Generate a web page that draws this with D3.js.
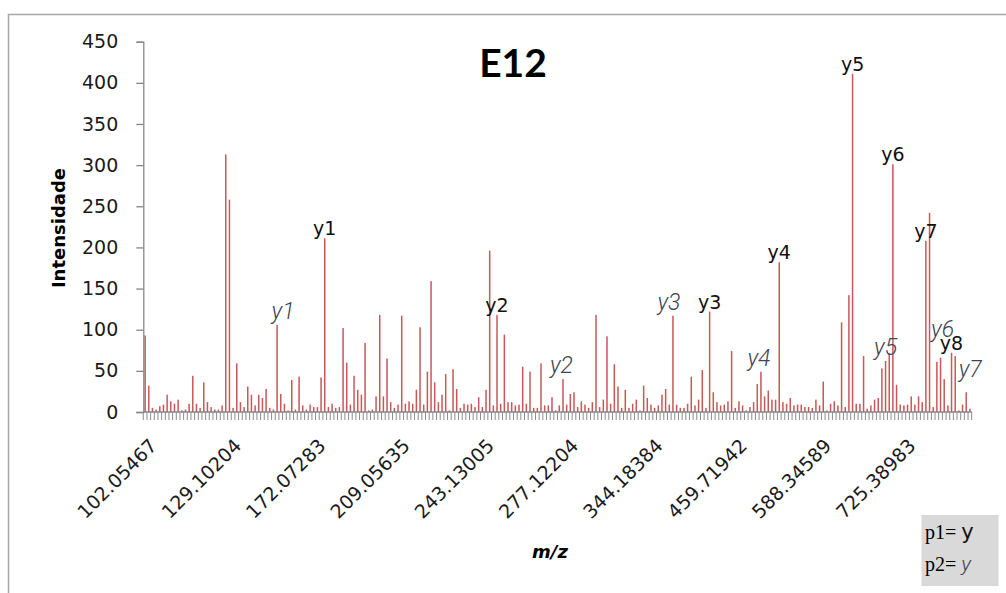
<!DOCTYPE html>
<html>
<head>
<meta charset="utf-8">
<script src="https://cdn.jsdelivr.net/npm/d3@7"></script>
<style>
  html, body { margin: 0; padding: 0; background: #fff; }
  svg { display: block; }
</style>
</head>
<body>
<svg id="chart" width="1006" height="593"></svg>
<script>
// Peak intensities of the E12 spectrum, one per detected ion, in m/z order
const intensities = [
  93, 32, 5, 3, 7, 9, 21, 13, 10, 15,
  2, 3, 10, 44, 10, 5, 36, 12, 6, 3,
  3, 8, 313, 258, 5, 59, 12, 6, 31, 21,
  8, 21, 17, 28, 5, 3, 106, 22, 10, 2,
  39, 3, 43, 8, 3, 9, 6, 6, 42, 211,
  6, 10, 5, 6, 102, 60, 9, 44, 27, 21,
  84, 2, 3, 19, 118, 19, 65, 12, 5, 9,
  117, 10, 13, 10, 27, 103, 9, 49, 159, 36,
  12, 21, 46, 2, 52, 28, 5, 10, 9, 10,
  6, 18, 6, 27, 196, 8, 118, 10, 94, 12,
  12, 8, 9, 55, 10, 49, 5, 5, 59, 8,
  8, 18, 2, 8, 40, 9, 22, 24, 6, 13,
  9, 5, 12, 118, 6, 15, 92, 10, 58, 31,
  5, 27, 5, 10, 15, 2, 32, 17, 9, 5,
  8, 21, 28, 9, 117, 9, 5, 5, 10, 43,
  8, 15, 51, 5, 122, 24, 12, 8, 9, 13,
  74, 5, 13, 8, 2, 6, 12, 34, 49, 19,
  26, 15, 15, 182, 12, 10, 17, 8, 9, 9,
  6, 6, 5, 15, 8, 37, 2, 10, 13, 8,
  109, 6, 142, 411, 10, 10, 68, 4, 8, 15,
  17, 53, 62, 71, 301, 33, 9, 8, 9, 19,
  9, 19, 12, 208, 242, 6, 61, 66, 40, 8,
  72, 68, 2, 9, 24, 4
];

// m/z values printed along the category axis (every 23rd peak)
const tickLabels = [
  "102.05467", "129.10204", "172.07283", "209.05635", "243.13005",
  "277.12204", "344.18384", "459.71942", "588.34589", "725.38983"
];
const labelEvery = 23;

const yTicks = [0, 50, 100, 150, 200, 250, 300, 350, 400, 450];

// Fragment assignments: p1 (typed) and p2 (handwritten), by peak index
const p1Peaks = [49, 96, 154, 173, 193, 204, 213, 220];
const p1Names = ["y1", "y2", "y3", "y4", "y5", "y6", "y7", "y8"];
const p2Peaks = [36, 114, 144, 168, 202, 217, 224];
const p2Names = ["y1", "y2", "y3", "y4", "y5", "y6", "y7"];

const svg = d3.select("#chart");
const sansFont = "'DejaVu Sans', Verdana, sans-serif";
const handFont = "Roboto, 'Noto Sans', sans-serif";
const handColor = "#3d4452";

// chart frame (right and bottom edges fall outside the view)
svg.append("rect")
  .attr("x", 8.5).attr("y", 14.5)
  .attr("width", 1010).attr("height", 600)
  .attr("fill", "none").attr("stroke", "#a6a6a6").attr("stroke-width", 1.5);

const plot = { left: 143.3, right: 971.7, top: 41.7, bottom: 412 };

const x = d3.scaleBand()
  .domain(d3.range(intensities.length))
  .range([plot.left, plot.right])
  .padding(0);

const y = d3.scaleLinear()
  .domain([0, 450])
  .range([plot.bottom, plot.top]);

const cx = i => x(i) + x.bandwidth() / 2;

// peaks
const barW = 1.5;
svg.append("g").selectAll("rect")
  .data(intensities)
  .join("rect")
  .attr("x", (d, i) => cx(i) - barW / 2)
  .attr("y", d => y(d))
  .attr("width", barW)
  .attr("height", d => y(0) - y(d))
  .attr("fill", "#c8585a");

// y axis
const yAxis = svg.append("g")
  .attr("transform", `translate(${plot.left},0)`)
  .call(d3.axisLeft(y).tickValues(yTicks).tickSize(7).tickPadding(18));
yAxis.select(".domain").attr("stroke", "#868686").attr("stroke-width", 1.3);
yAxis.selectAll(".tick line").attr("stroke", "#868686").attr("stroke-width", 1.3);
yAxis.selectAll(".tick text")
  .attr("font-family", sansFont).attr("font-size", 19).attr("fill", "#1a1a1a");

// x axis: baseline, one tick per category boundary
svg.append("line")
  .attr("x1", plot.left).attr("x2", plot.right)
  .attr("y1", plot.bottom).attr("y2", plot.bottom)
  .attr("stroke", "#868686").attr("stroke-width", 1.3);

const edges = d3.range(intensities.length).map(i => x(i)).concat([plot.right]);
svg.append("g").selectAll("line")
  .data(edges)
  .join("line")
  .attr("x1", d => d).attr("x2", d => d)
  .attr("y1", plot.bottom).attr("y2", plot.bottom + 8)
  .attr("stroke", "#8c8c8c").attr("stroke-width", 1);

// rotated m/z labels
svg.append("g").selectAll("text")
  .data(tickLabels)
  .join("text")
  .attr("transform", (d, k) => `translate(${cx(k * labelEvery) + 13},${plot.bottom + 35}) rotate(-45)`)
  .attr("text-anchor", "end")
  .attr("font-family", sansFont)
  .attr("font-size", 19)
  .attr("fill", "#1a1a1a")
  .text(d => d);

// title
svg.append("text")
  .attr("x", 513).attr("y", 77)
  .attr("text-anchor", "middle")
  .attr("font-family", "Lato, 'Open Sans', sans-serif")
  .attr("font-weight", "bold")
  .attr("font-size", 39)
  .attr("fill", "#000")
  .text("E12");

// axis titles
svg.append("text")
  .attr("transform", "translate(65,228) rotate(-90)")
  .attr("text-anchor", "middle")
  .attr("font-family", sansFont)
  .attr("font-weight", "bold")
  .attr("font-size", 18)
  .attr("fill", "#000")
  .text("Intensidade");

svg.append("text")
  .attr("x", 550).attr("y", 558)
  .attr("text-anchor", "middle")
  .attr("font-family", sansFont)
  .attr("font-weight", "bold")
  .attr("font-style", "italic")
  .attr("font-size", 18)
  .attr("fill", "#000")
  .text("m/z");

// typed fragment labels (p1), sitting on the peak tops
svg.append("g").selectAll("text")
  .data(p1Peaks)
  .join("text")
  .attr("x", i => cx(i))
  .attr("y", i => y(intensities[i]) - 3)
  .attr("text-anchor", "middle")
  .attr("font-family", sansFont)
  .attr("font-size", 19)
  .attr("fill", "#111")
  .text((i, k) => p1Names[k]);

// handwritten fragment labels (p2), placed freely near their peaks
const p2Nudge = [[6, 0], [-1.5, 0], [-4, 0], [-2, 0], [0, 0], [2, -15], [4, -9]];
svg.append("g").selectAll("text")
  .data(p2Peaks)
  .join("text")
  .attr("x", (i, k) => cx(i) + p2Nudge[k][0])
  .attr("y", (i, k) => y(intensities[i]) - 6 + p2Nudge[k][1])
  .attr("text-anchor", "middle")
  .attr("font-family", handFont)
  .attr("font-weight", 300)
  .attr("font-style", "italic")
  .attr("font-size", 23)
  .attr("fill", handColor)
  .text((i, k) => p2Names[k]);

// key box
const key = svg.append("g");
key.append("rect")
  .attr("x", 921.5).attr("y", 515)
  .attr("width", 77).attr("height", 71)
  .attr("fill", "#d9d9d9");
const keyRows = [
  { p: "p1= ", y: "y", font: sansFont, weight: 400, style: "normal", color: "#111" },
  { p: "p2= ", y: "y", font: handFont, weight: 300, style: "italic", color: handColor }
];
keyRows.forEach((r, k) => {
  const t = key.append("text")
    .attr("x", 925).attr("y", 539 + k * 32)
    .attr("font-family", "'Liberation Serif', 'Times New Roman', serif")
    .attr("font-size", 20)
    .attr("fill", "#000");
  t.append("tspan").text(r.p);
  t.append("tspan")
    .attr("font-family", r.font)
    .attr("font-weight", r.weight)
    .attr("font-style", r.style)
    .attr("fill", r.color)
    .attr("font-size", 21)
    .text(r.y);
});
</script>
</body>
</html>
